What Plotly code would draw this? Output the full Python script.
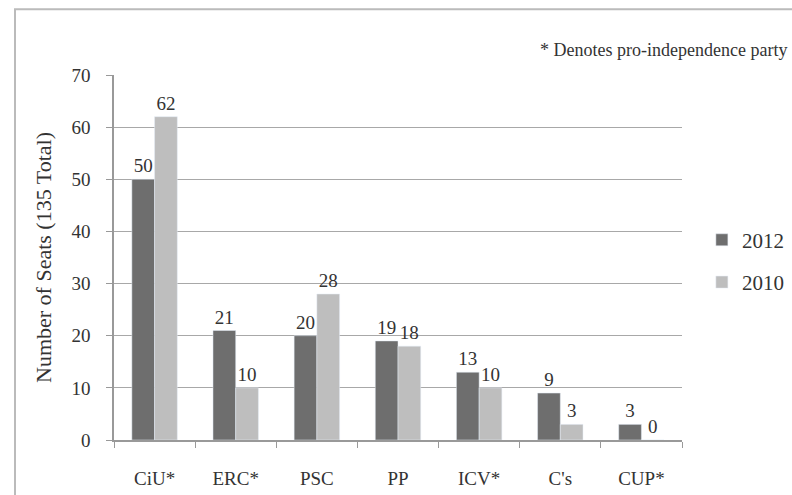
import plotly.graph_objects as go

parties = ["CiU*", "ERC*", "PSC", "PP", "ICV*", "C's", "CUP*"]
seats_2012 = [50, 21, 20, 19, 13, 9, 3]
seats_2010 = [62, 10, 28, 18, 10, 3, 0]
series_names = ["2012", "2010"]
y_title = "Number of Seats (135 Total)"
note = "* Denotes pro-independence party"

FONT = "Liberation Serif"
dark = "#6e6e6e"
light = "#bebebe"
txt = "#333333"

fig = go.Figure()
fig.add_trace(go.Bar(name=series_names[0], x=parties, y=seats_2012, marker_color=dark,
                     legendgroup="a",
                     text=seats_2012, textposition="outside", cliponaxis=False,
                     textfont=dict(family=FONT, size=19, color=txt)))
fig.add_trace(go.Bar(name=series_names[1], x=parties, y=seats_2010, marker_color=light,
                     legendgroup="b",
                     text=seats_2010, textposition="outside", cliponaxis=False,
                     textfont=dict(family=FONT, size=19, color=txt)))

fig.update_layout(
    width=792, height=495,
    margin=dict(l=114, r=110, t=75, b=55, autoexpand=False),
    paper_bgcolor="white", plot_bgcolor="white",
    barmode="group", bargap=0.44, bargroupgap=0,
    font=dict(family=FONT, size=18, color=txt),
    showlegend=True,
    legend=dict(x=1.035, y=0.49, xanchor="left", yanchor="middle",
                font=dict(family=FONT, size=21, color=txt),
                itemwidth=30, tracegroupgap=12, bgcolor="rgba(0,0,0,0)"),
    xaxis=dict(showline=True, linecolor="#999999", linewidth=1.5,
               ticks="outside", tickson="boundaries", ticklen=6, tickcolor="#999999",
               ticklabelstandoff=20,
               tickfont=dict(family=FONT, size=19, color=txt), showgrid=False),
    yaxis=dict(range=[0, 70], dtick=10, showline=True, linecolor="#999999", linewidth=1.5,
               ticks="outside", ticklen=6, tickcolor="#999999",
               ticklabelstandoff=12,
               showgrid=True, gridcolor="#a8a8a8", gridwidth=1.2,
               tickfont=dict(family=FONT, size=19, color=txt),
               title=dict(text=y_title, font=dict(family=FONT, size=22, color=txt), standoff=14),
               zeroline=False),
    annotations=[dict(text=note, xref="paper", yref="paper", x=1.188, y=1.068,
                      xanchor="right", yanchor="middle", showarrow=False,
                      font=dict(family=FONT, size=18, color=txt))],
    shapes=[dict(type="rect", xref="paper", yref="paper",
                 x0=-0.1743, x1=1.3, y0=-0.25, y1=1.18,
                 line=dict(color="#bbbbbb", width=2), fillcolor="rgba(0,0,0,0)", layer="below")],
)

fig.write_html("out.html")
